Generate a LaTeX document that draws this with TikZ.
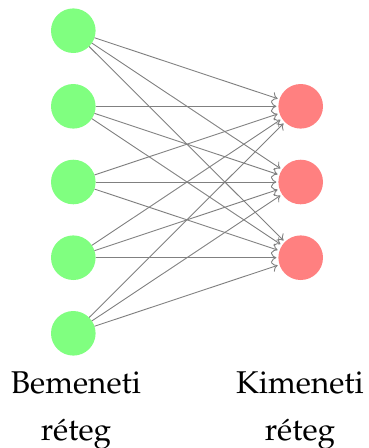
\documentclass[tikz,border=0pt]{standalone}
\usepackage[T1]{fontenc}
\usepackage{mathpazo}
\usetikzlibrary{arrows.meta}
\begin{document}
\begin{tikzpicture}[x=1pt,y=-1pt,
  neuron/.style={circle,minimum size=44.6pt,inner sep=0pt,outer sep=0pt,draw=none},
  innode/.style={neuron,fill=green!50},
  outnode/.style={neuron,fill=red!50},
  link/.style={draw=black!50,line width=0.9pt,shorten >=2pt,-{To[length=5.5pt,width=10pt]}},
  caption/.style={inner sep=0pt,anchor=base,font=\fontsize{31.5}{46.7}\selectfont}]
\useasboundingbox (0,0) rectangle (368,448);
% input layer
\foreach \i/\y in {1/30.7,2/106.3,3/182,4/257.7,5/333.3}
  \node[innode] (I\i) at (73.3,\y) {};
% output layer
\foreach \j/\y in {1/106.3,2/182,3/257.7}
  \node[outnode] (O\j) at (300.7,\y) {};
% full connections
\foreach \i in {1,...,5}
  \foreach \j in {1,2,3}
    \draw[link] (I\i) -- (O\j);
% layer captions
\node[caption] (cin1) at (76,393.3) {Bemeneti};
\node[caption] (cin2) at (76,440) {réteg};
\node[caption] (cout1) at (300,393.3) {Kimeneti};
\node[caption] (cout2) at (300,440) {réteg};
\end{tikzpicture}
\end{document}
